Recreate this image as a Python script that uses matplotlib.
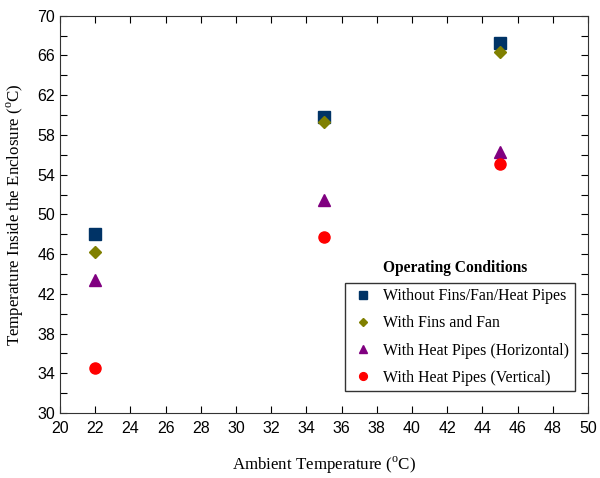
import matplotlib
matplotlib.use('Agg')
import matplotlib.pyplot as plt
from matplotlib.ticker import MultipleLocator

plt.rcParams['mathtext.fontset'] = 'custom'
plt.rcParams['mathtext.rm'] = 'Liberation Serif'

# data
ambient = [22, 35, 45]
no_fins = [48.0, 59.8, 67.3]
fins_fan = [46.2, 59.3, 66.4]
hp_horiz = [43.4, 51.4, 56.3]
hp_vert = [34.5, 47.7, 55.1]
labels = ['Without Fins/Fan/Heat Pipes', 'With Fins and Fan',
          'With Heat Pipes (Horizontal)', 'With Heat Pipes (Vertical)']

fig = plt.figure(figsize=(6, 4.78), dpi=100)
ax = fig.add_axes([0.1, 0.136, 0.88, 0.831])

ax.plot(ambient, no_fins, 's', color='#003366', ms=8, ls='none', label=labels[0])
ax.plot(ambient, fins_fan, 'D', color='#808000', ms=6.5, ls='none', label=labels[1])
ax.plot(ambient, hp_horiz, '^', color='#800080', ms=8, ls='none', label=labels[2])
ax.plot(ambient, hp_vert, 'o', color='#ff0000', ms=8, ls='none', label=labels[3])

ax.set_xlim(20, 50)
ax.set_ylim(30, 70)
ax.xaxis.set_major_locator(MultipleLocator(2))
ax.set_yticks(range(30, 71, 4))
ax.yaxis.set_minor_locator(MultipleLocator(2))
ax.tick_params(which='both', direction='in', top=True, right=True, width=0.8)
ax.tick_params(which='major', length=5, labelsize=11.5)
ax.tick_params(which='minor', length=5)
for t in ax.get_xticklabels() + ax.get_yticklabels():
    t.set_fontfamily('Liberation Sans')
ax.tick_params(axis='x', pad=6)
for s in ax.spines.values():
    s.set_color('#333333')

ax.set_xlabel('Ambient Temperature ($^{\\rm o}$C)', fontfamily='Liberation Serif',
              fontsize=12.2, labelpad=13)
ax.set_ylabel('Temperature Inside the Enclosure ($^{\\rm o}$C)',
              fontfamily='Liberation Serif', fontsize=12.2, labelpad=8)

leg = ax.legend(loc='lower left', bbox_to_anchor=(0.54, 0.055, 0.435, 0.2),
                mode='expand', prop={'family': 'Liberation Serif', 'size': 11.4},
                frameon=True, fancybox=False, edgecolor='black', markerscale=0.7,
                handlelength=1.5, handletextpad=0.55, labelspacing=0.7,
                borderaxespad=0, borderpad=0.35)
leg.get_frame().set_linewidth(1.0)
ax.text(0.748, 0.365, 'Operating Conditions', transform=ax.transAxes,
        ha='center', va='center', fontfamily='Liberation Serif',
        fontsize=11.2, fontweight='bold')

fig.savefig('out.png', dpi=100)
